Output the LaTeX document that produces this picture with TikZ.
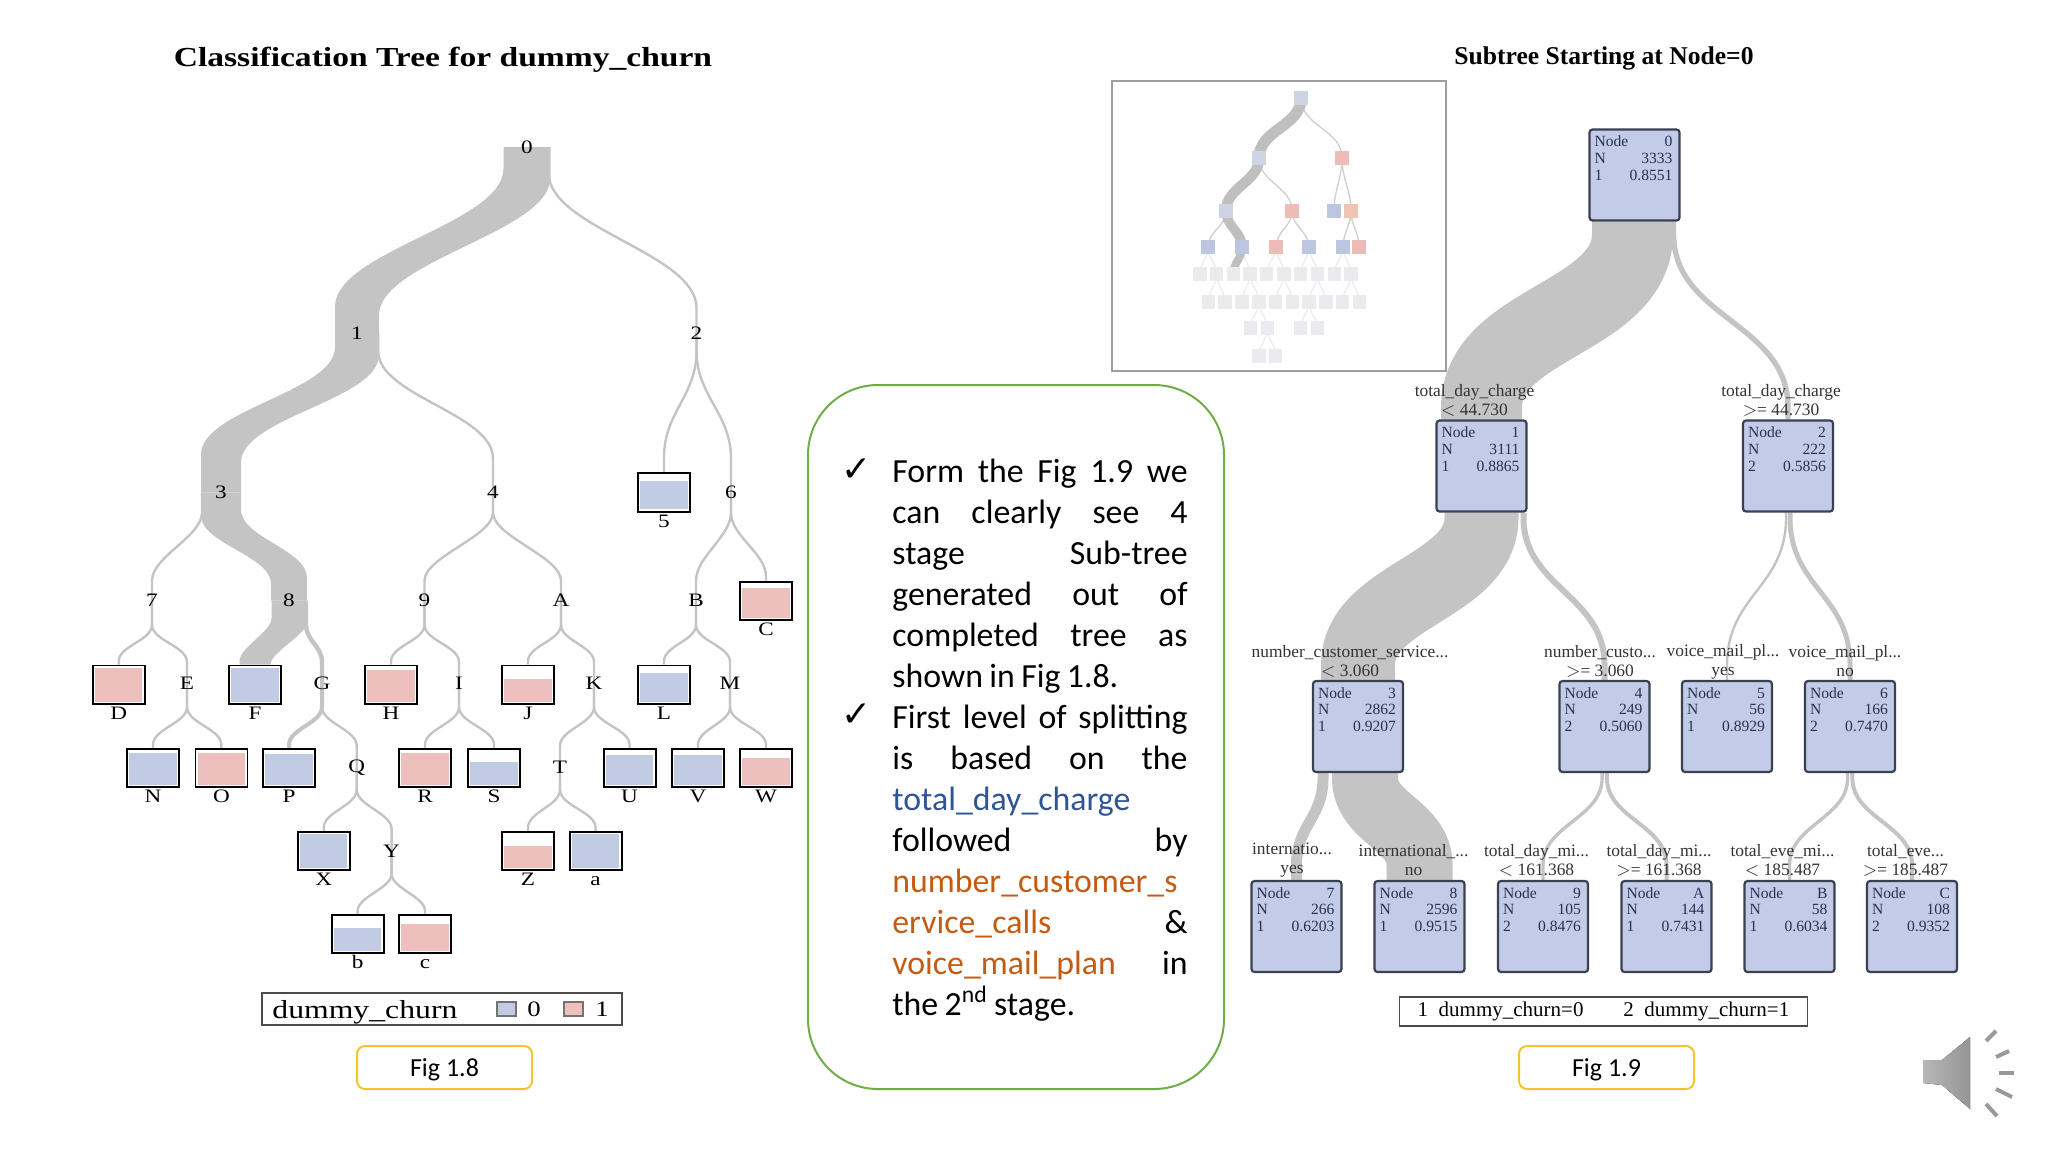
\documentclass[tikz,border=0pt]{standalone}
\usepackage{fontspec}
\setmainfont{Liberation Serif}
\newfontfamily\wideserif[FakeStretch=1.22]{Liberation Serif}
\newfontfamily\slidefont{Carlito}
\newfontfamily\tickfont{DejaVu Sans}
\usetikzlibrary{backgrounds}
\definecolor{bandgray}{HTML}{C4C4C4}
\definecolor{leafblue}{HTML}{C1CBE3}
\definecolor{leafpink}{HTML}{EEC0BD}
\definecolor{splitblue}{HTML}{C2CCE8}
\definecolor{splitline}{HTML}{3A4050}
\definecolor{splittextc}{HTML}{2A3050}
\definecolor{notegreen}{HTML}{70AD47}
\definecolor{figyellow}{HTML}{F4C430}
\definecolor{noteblue}{HTML}{2F5597}
\definecolor{noteorange}{HTML}{C55A11}
\definecolor{insetblue}{HTML}{BCC6E0}
\definecolor{insetpale}{HTML}{CDD5E4}
\definecolor{insetpink}{HTML}{EEBCB8}
\definecolor{insetpeach}{HTML}{EFC4B4}
\definecolor{insetrest}{HTML}{E9EBEE}

\begin{document}
\begin{tikzpicture}[x=0.5pt,y=-0.5pt,
    band/.style={draw=bandgray},
    thinlink/.style={draw=bandgray, line width=1.2pt},
    elbow/.style n args={3}{to path={-- ++(0,#1) .. controls +(0,#3) and +(0,-#3) .. ([yshift=#2*0.5pt]\tikztotarget) -- (\tikztotarget)}},
    sband/.style n args={6}{to path={([xshift=-#1*0.5pt]\tikztostart) -- ++(0,#3-#6) .. controls +(0,#5) and +(0,-#5) .. ([xshift=-#2*0.5pt,yshift={(#4+#6)*0.5pt}]\tikztotarget) -- ([xshift=-#2*0.5pt]\tikztotarget) -- ([xshift=#2*0.5pt]\tikztotarget) -- ([xshift=#2*0.5pt,yshift={(#4-#6)*0.5pt}]\tikztotarget) .. controls +(0,-#5) and +(0,#5) .. ([xshift=#1*0.5pt,yshift={-(#3+#6)*0.5pt}]\tikztostart) -- ([xshift=#1*0.5pt]\tikztostart) -- cycle}},
    treetag/.style={inner sep=0pt, font=\wideserif\fontsize{9.5}{10}\selectfont},
    leaftag/.style={inner sep=0pt, anchor=base, font=\wideserif\fontsize{9.5}{10}\selectfont},
    leafbox/.style 2 args={draw=black, line width=0.9pt, fill=white, inner sep=0pt, minimum width=26pt, minimum height=19.3pt,
      path picture={\fill[#1] ([xshift=1.2pt,yshift=-#2*0.5pt]path picture bounding box.north west) rectangle ([xshift=-1.2pt,yshift=1.2pt]path picture bounding box.south east);}},
    splitbox/.style={draw=splitline, line width=1.1pt, fill=splitblue, rounded corners=1.5pt, inner sep=0pt, minimum width=45pt, minimum height=45.5pt},
    splittext/.style={anchor=north, inner sep=0pt, yshift=-3.6pt, xshift=-0.5pt, text width=39pt, align=left, text=splittextc, font=\fontsize{7.8}{8.3}\selectfont},
    splitlabel/.style={inner sep=0pt, align=center, text=black!80, font=\fontsize{8.7}{9.5}\selectfont},
    figbox/.style={draw=figyellow, line width=1pt, rounded corners=4pt, inner sep=0pt, minimum width=87.5pt, minimum height=21.5pt, text depth=0pt, font=\slidefont\fontsize{13}{14}\selectfont},
    insetnode/.style={inner sep=0pt, minimum width=6.6pt, minimum height=6.6pt},
    insetlink/.style={draw=black!18, line width=0.7pt},
    insetfaint/.style={draw=black!8, line width=0.6pt},
    insetband/.style={draw=black!25, line width=#1}
  ]
    \useasboundingbox (0,0) rectangle (2048,1152);

    % Titles
    \node[inner sep=0pt, font=\wideserif\bfseries\fontsize{13.75}{15}\selectfont] (titleLeft) at (443,59.5) {Classification Tree for dummy\_churn};
    \node[inner sep=0pt, font=\bfseries\fontsize{12.8}{15}\selectfont] (titleRight) at (1604,58.5) {Subtree Starting at Node=0};

    % Full tree, inner nodes
    \foreach \name/\x/\y in {0/527/147,1/357/333,2/696.5/333,3/221/492.5,4/493/492.5,6/731/492.5,
        7/152/600.7,8/289/600.7,9/424.5/600.7,A/561/600.7,B/696/600.7,
        E/187/683,G/322/683,I/459/683,K/594/683,M/730/683,
        Q/356.7/767.7,T/560/767.7,Y/391.6/851}
      \node[treetag] (t\name) at (\x,\y) {\name};

    % Full tree, leaves
    \foreach \name/\x/\y/\col/\gap in {5/664/492.5/leafblue/8,C/766/601/leafpink/6,
        D/118.7/684.7/leafpink/3,F/255/684.7/leafblue/3,H/391/684.7/leafpink/5,J/528/684.7/leafpink/14,L/664/684.7/leafblue/8,
        N/153/768/leafblue/4,O/221.4/768/leafpink/4,P/289/768/leafblue/5,R/425/768/leafpink/4,S/494/768/leafblue/13,
        U/629.6/768/leafblue/6,V/698/768/leafblue/6,W/766/768/leafpink/9,
        X/323.7/851/leafblue/2,Z/528/851/leafpink/14,a/595.6/851/leafblue/2,
        b/357.6/934/leafblue/13,c/425/934/leafpink/9} {
      \node[leafbox={\col}{\gap}] (leaf\name) at (\x,\y) {};
      \node[leaftag] (tag\name) at ([yshift=-7.3pt]leaf\name.south) {\name};
    }

    \begin{pgfonlayer}{background}
      % Full tree, heavy branch
      \fill[bandgray] (t0.center) to[sband={23.5}{22}{26}{22}{55}{4.5}] (t1.center);
      \fill[bandgray] (t1.center) to[sband={22}{20}{18}{34}{45}{4}] (t3.center);
      \fill[bandgray] (t3.center) to[sband={20}{18}{20}{20}{28}{-3}] (t8.center);
      \fill[bandgray] (t8.center) to[sband={17.5}{15.5}{20}{2}{12}{2}] (leafF.north);
      \draw[band, line width=2.2pt] ([xshift=8.5pt]t8.center) to[elbow={24}{21}{16}] (tG.center);
      \draw[band, line width=2pt] (tG.center) to[elbow={24}{3}{16}] (leafP.north);
      % Full tree, thin links
      \draw[thinlink] ([xshift=10.8pt]t0.center) to[elbow={26}{25}{55}] (t2.center);
      \draw[thinlink] ([xshift=10.6pt]t1.center) to[elbow={18}{34}{45}] (t4.center);
      \draw[thinlink] (t2.center) to[elbow={18}{15}{45}] (leaf5.north);
      \draw[thinlink] (t2.center) to[elbow={18}{34}{45}] (t6.center);
      \draw[thinlink] ([xshift=-9.5pt]t3.center) to[elbow={20}{20}{24}] (t7.center);
      \draw[thinlink] (t4.center) to[elbow={20}{20}{24}] (t9.center);
      \draw[thinlink] (t4.center) to[elbow={20}{20}{24}] (tA.center);
      \draw[thinlink] (t6.center) to[elbow={20}{20}{24}] (tB.center);
      \draw[thinlink] (t6.center) to[elbow={20}{4}{24}] (leafC.north);
      \draw[thinlink] (t7.center) to[elbow={24}{3}{16}] (leafD.north);
      \draw[thinlink] (t7.center) to[elbow={24}{21}{16}] (tE.center);
      \draw[thinlink] (t9.center) to[elbow={24}{3}{16}] (leafH.north);
      \draw[thinlink] (t9.center) to[elbow={24}{21}{16}] (tI.center);
      \draw[thinlink] (tA.center) to[elbow={24}{3}{16}] (leafJ.north);
      \draw[thinlink] (tA.center) to[elbow={24}{21}{16}] (tK.center);
      \draw[thinlink] (tB.center) to[elbow={24}{3}{16}] (leafL.north);
      \draw[thinlink] (tB.center) to[elbow={24}{21}{16}] (tM.center);
      \draw[thinlink] (tE.center) to[elbow={24}{3}{16}] (leafN.north);
      \draw[thinlink] (tE.center) to[elbow={24}{3}{16}] (leafO.north);
      \draw[thinlink] (tG.center) to[elbow={24}{22}{16}] (tQ.center);
      \draw[thinlink] (tI.center) to[elbow={24}{3}{16}] (leafR.north);
      \draw[thinlink] (tI.center) to[elbow={24}{3}{16}] (leafS.north);
      \draw[thinlink] (tK.center) to[elbow={24}{22}{16}] (tT.center);
      \draw[thinlink] (tK.center) to[elbow={24}{3}{16}] (leafU.north);
      \draw[thinlink] (tM.center) to[elbow={24}{3}{16}] (leafV.north);
      \draw[thinlink] (tM.center) to[elbow={24}{3}{16}] (leafW.north);
      \draw[thinlink] (tQ.center) to[elbow={22}{3}{16}] (leafX.north);
      \draw[thinlink] (tQ.center) to[elbow={22}{22}{16}] (tY.center);
      \draw[thinlink] (tT.center) to[elbow={22}{3}{16}] (leafZ.north);
      \draw[thinlink] (tT.center) to[elbow={22}{3}{16}] (leafa.north);
      \draw[thinlink] (tY.center) to[elbow={23}{3}{14}] (leafb.north);
      \draw[thinlink] (tY.center) to[elbow={23}{3}{14}] (leafc.north);
    \end{pgfonlayer}

    % Legend of the full tree
    \node[draw=black!70, line width=0.8pt, inner sep=0pt, minimum width=180pt, minimum height=16pt] (legendLeft) at (442,1009) {};
    \node[anchor=west, inner sep=0pt, font=\wideserif\fontsize{13}{14}\selectfont] (legendName) at (272,1012.5) {dummy\_churn};
    \node[draw=black!55, line width=0.8pt, fill=leafblue, inner sep=0pt, minimum width=9.5pt, minimum height=7pt] (swatchZero) at (506.5,1009) {};
    \node[inner sep=0pt, font=\wideserif\fontsize{11}{12}\selectfont] (legendZero) at (534,1009) {0};
    \node[draw=black!55, line width=0.8pt, fill=leafpink, inner sep=0pt, minimum width=9.5pt, minimum height=7pt] (swatchOne) at (573.5,1009) {};
    \node[inner sep=0pt, font=\wideserif\fontsize{11}{12}\selectfont] (legendOne) at (602,1009) {1};
    \node[figbox] (figLeft) at (444.5,1067.5) {Fig 1.8};

    % Middle note
    \node[draw=notegreen, line width=1pt, rounded corners=35pt, inner sep=0pt, minimum width=208pt, minimum height=352pt] (noteBox) at (1016,737) {};
    \node[inner sep=0pt, font=\tickfont\fontsize{18}{18}\selectfont] (tickOne) at (857,470) {✓};
    \node[inner sep=0pt, font=\tickfont\fontsize{18}{18}\selectfont] (tickTwo) at (857,715) {✓};
    \node[anchor=north west, inner sep=0pt, text width=147.6pt, align=left, font=\slidefont\fontsize{16.9}{20.47}\selectfont] (noteText) at (892,459) {\spaceskip=0.19em
      Form\hfill the\hfill Fig\hfill 1.9\hfill we\\
      can\hfill clearly\hfill see\hfill 4\\
      stage\hfill Sub-tree\\
      generated\hfill out\hfill of\\
      completed\hfill tree\hfill as\\
      shown in Fig 1.8.\\
      First\hfill level\hfill of\hfill splitting\\
      is\hfill based\hfill on\hfill the\\
      \textcolor{noteblue}{total\_day\_charge}\\
      followed\hfill by\\
      \textcolor{noteorange}{number\_customer\_s}\\
      \textcolor{noteorange}{ervice\_calls}\hfill \&\\
      \textcolor{noteorange}{voice\_mail\_plan}\hfill in\\
      the 2\textsuperscript{nd} stage.};

    % Small overview
    \node[draw=black!38, line width=1pt, inner sep=0pt, minimum width=167pt, minimum height=145pt] (insetFrame) at (1279,226) {};
    \foreach \name/\x/\y/\col in {0/1301/98/insetpale,1/1259/158/insetpale,2/1342/158/insetpink,
        3/1226/211/insetpale,4/1292/211/insetpink,5/1334/211/insetblue,6/1351/211/insetpeach,
        7/1208/247/insetblue,8/1242/247/insetblue,9/1276/247/insetpink,A/1309/247/insetblue,B/1343/247/insetblue,C/1359/247/insetpink,
        D/1200/274/insetrest,E/1216.7/274/insetrest,F/1233.3/274/insetrest,G/1250/274/insetrest,H/1266.7/274/insetrest,
        I/1284/274/insetrest,J/1300.7/274/insetrest,K/1317.3/274/insetrest,L/1334.3/274/insetrest,M/1351/274/insetrest,
        N/1208.3/302/insetrest,O/1225/302/insetrest,P/1242/302/insetrest,Q/1259/302/insetrest,R/1275.7/302/insetrest,
        S/1292.3/302/insetrest,T/1309/302/insetrest,U/1326/302/insetrest,V/1342.7/302/insetrest,W/1359.3/302/insetrest,
        X/1250.3/328/insetrest,Y/1267.3/328/insetrest,Z/1300.7/328/insetrest,a/1317.3/328/insetrest,
        b/1259/356/insetrest,c/1275.7/356/insetrest}
      \node[insetnode, fill=\col] (i\name) at (\x,\y) {};
    \begin{pgfonlayer}{background}
      \foreach \from/\to in {7/D,7/E,8/G,9/H,9/I,A/J,A/K,B/L,B/M,E/N,E/O,G/P,G/Q,I/R,I/S,K/T,K/U,M/V,M/W,Q/X,Q/Y,T/Z,T/a,Y/b,Y/c}
        \draw[insetfaint] (i\from.center) to[out=-90,in=90] (i\to.center);
      \foreach \from/\to in {0/2,1/4,2/5,2/6,3/7,4/9,4/A,6/B,6/C}
        \draw[insetlink] (i\from.center) to[out=-90,in=90] (i\to.center);
      \draw[insetband=5.6pt] (i0.center) to[out=-90,in=90] (i1.center);
      \draw[insetband=5.2pt] (i1.center) to[out=-90,in=90] (i3.center);
      \draw[insetband=4.8pt] (i3.center) to[out=-90,in=90] (i8.center);
      \draw[insetband=4pt] (i8.center) to[out=-90,in=90] (iF.center);
    \end{pgfonlayer}

    % Subtree boxes
    \foreach \name/\x/\y/\cls/\cnt/\pct in {0/1634.5/175/1/3333/0.8551,1/1481.5/466/1/3111/0.8865,2/1788/466/2/222/0.5856,
        3/1358/726.5/1/2862/0.9207,4/1604.5/726.5/2/249/0.5060,5/1727/726.5/1/56/0.8929,6/1850/726.5/2/166/0.7470,
        7/1296.5/926.5/1/266/0.6203,8/1419.5/926.5/1/2596/0.9515,9/1543/926.5/2/105/0.8476,A/1666.5/926.5/1/144/0.7431,
        B/1789.5/926.5/1/58/0.6034,C/1912/926.5/2/108/0.9352} {
      \node[splitbox] (s\name) at (\x,\y) {};
      \node[splittext] (info\name) at (s\name.north) {Node\hfill\name\\N\hfill\cnt\\\cls\hfill\pct};
    }

    % Split conditions
    \node[splitlabel] (cond1) at (1474.5,400.5) {total\_day\_charge\\$<$ 44.730};
    \node[splitlabel] (cond2) at (1781,400.5) {total\_day\_charge\\$>$= 44.730};
    \node[splitlabel] (cond3) at (1350,661.5) {number\_customer\_service...\\$<$ 3.060};
    \node[splitlabel] (cond4) at (1600,661.5) {number\_custo...\\$>$= 3.060};
    \node[splitlabel] (cond5) at (1723,661.5) {voice\_mail\_pl...\\yes};
    \node[splitlabel] (cond6) at (1845,661.5) {voice\_mail\_pl...\\no};
    \node[splitlabel] (cond7) at (1292,860.5) {internatio...\\yes};
    \node[splitlabel] (cond8) at (1413.5,860.5) {international\_...\\no};
    \node[splitlabel] (cond9) at (1536.5,860.5) {total\_day\_mi...\\$<$ 161.368};
    \node[splitlabel] (condA) at (1659,860.5) {total\_day\_mi...\\$>$= 161.368};
    \node[splitlabel] (condB) at (1782.5,860.5) {total\_eve\_mi...\\$<$ 185.487};
    \node[splitlabel] (condC) at (1905.5,860.5) {total\_eve...\\$>$= 185.487};

    \begin{pgfonlayer}{background}
      % Subtree links
      \draw[band, line width=40.5pt] ([xshift=-1pt]s0.south) to[elbow={12}{12}{85}] (s1.north);
      \draw[band, line width=2.7pt] ([xshift=19.5pt]s0.south) to[elbow={12}{12}{85}] (s2.north);
      \draw[band, line width=37pt] (s1.south) to[elbow={5}{15}{70}] (s3.north);
      \draw[band, line width=3pt] ([xshift=21pt]s1.south) to[elbow={5}{15}{70}] (s4.north);
      \draw[band, line width=1.2pt] ([xshift=-1pt]s2.south) to[elbow={5}{15}{70}] (s5.north);
      \draw[band, line width=2.5pt] ([xshift=1pt]s2.south) to[elbow={5}{15}{70}] (s6.north);
      \draw[band, line width=5.5pt] ([xshift=-17.5pt]s3.south) to[elbow={5}{15}{40}] (s7.north);
      \draw[band, line width=33pt] ([xshift=3.5pt]s3.south) to[elbow={5}{15}{40}] (s8.north);
      \draw[band, line width=1.7pt] ([xshift=-1.2pt]s4.south) to[elbow={5}{15}{40}] (s9.north);
      \draw[band, line width=2pt] ([xshift=1.2pt]s4.south) to[elbow={5}{15}{40}] (sA.north);
      \draw[band, line width=1.7pt] ([xshift=-1.2pt]s6.south) to[elbow={5}{15}{40}] (sB.north);
      \draw[band, line width=2pt] ([xshift=1.2pt]s6.south) to[elbow={5}{15}{40}] (sC.north);
    \end{pgfonlayer}

    % Legend of the subtree
    \node[draw=black!70, line width=0.9pt, inner sep=0pt, minimum width=204pt, minimum height=14.5pt] (legendRight) at (1603.5,1011.5) {};
    \node[inner sep=0pt, font=\fontsize{10.5}{12}\selectfont] (legendText) at (1603.5,1011) {1\hspace{0.5em}dummy\_churn=0\hspace{1.9em}2\hspace{0.5em}dummy\_churn=1};
    \node[figbox] (figRight) at (1606.5,1067.5) {Fig 1.9};

    % Speaker
    \fill[left color=black!28, right color=black!42] (1923,1060) -- (1942,1060) -- (1970,1037) -- (1970,1109) -- (1942,1085) -- (1923,1083) -- cycle;
    \foreach \xa/\ya/\xb/\yb in {1986/1041/1996/1031,1996/1057/2009/1051,1999/1073/2014/1073,1996/1089/2012/1097,1986/1104/1997/1116}
      \draw[draw=black!40, line width=2pt] (\xa,\ya) -- (\xb,\yb);
\end{tikzpicture}
\end{document}
